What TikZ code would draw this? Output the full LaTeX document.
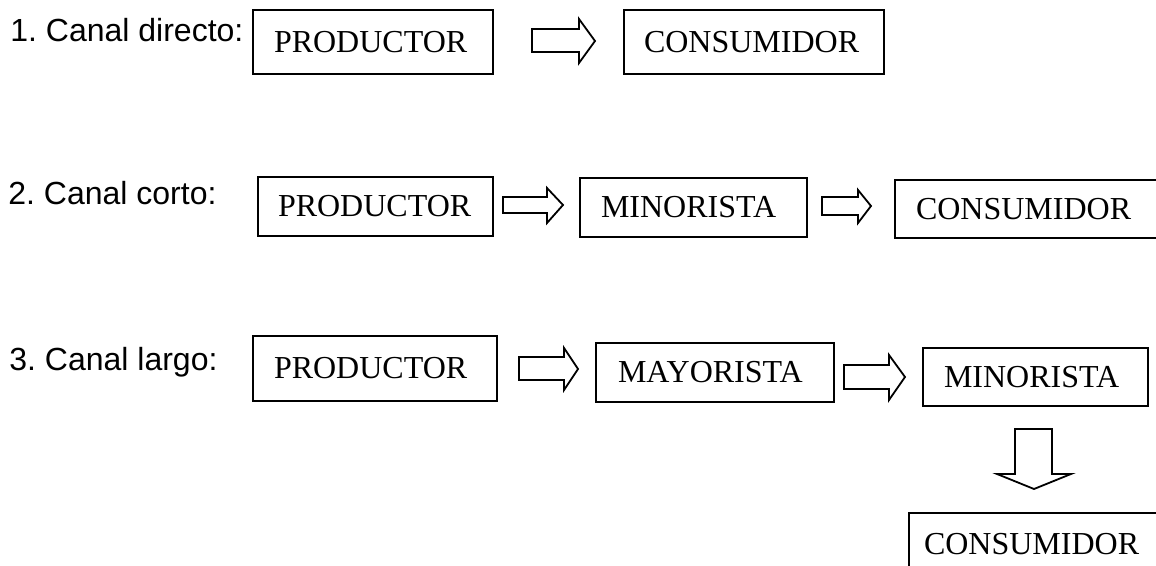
\documentclass[tikz,border=0pt]{standalone}
\usepackage{fontspec}
\setmainfont{Liberation Serif}
\newfontfamily\labfont{Liberation Sans}
\frenchspacing
\begin{document}
\begin{tikzpicture}[x=0.5pt,y=-0.5pt,
  box/.style={draw, line width=1pt, anchor=north west, inner ysep=0pt, align=left,
              font=\fontsize{16}{19}\selectfont},
  lab/.style={anchor=base west, inner sep=0pt, font=\labfont\fontsize{16}{19}\selectfont},
  blockarrow/.style={draw, line width=0.9pt, line join=miter}]
\useasboundingbox (0,0) rectangle (1156,566);
\clip (0,0) rectangle (1156,566);

% labels
\node[lab] (l1) at (10,42) {1. Canal directo:};
\node[lab] (l2) at (8,205) {2. Canal corto:};
\node[lab] (l3) at (9,371) {3. Canal largo:};

% row 1
\node[box, text width=99pt, inner xsep=10.5pt, minimum height=32pt] (p1) at (252,9) {PRODUCTOR};
\node[box, text width=110pt, inner xsep=10pt, minimum height=32pt] (c1) at (623,9) {CONSUMIDOR};
\draw[blockarrow] (532,29) -- (579,29) -- (579,19) -- (595,41) -- (579,63) -- (579,52) -- (532,52) -- cycle;

% row 2
\node[box, text width=97.5pt, inner xsep=10pt, minimum height=29.5pt] (p2) at (257,176) {PRODUCTOR};
\node[box, text width=92.5pt, inner xsep=10.5pt, minimum height=29.5pt] (m2) at (579,177) {MINORISTA};
\node[box, text width=127pt, inner xsep=10.5pt, minimum height=29pt] (c2) at (894,179) {CONSUMIDOR};
\draw[blockarrow] (503,197) -- (547,197) -- (547,188) -- (563,205) -- (547,223) -- (547,213) -- (503,213) -- cycle;
\draw[blockarrow] (822,197) -- (858,197) -- (858,190) -- (871,206) -- (858,223) -- (858,215) -- (822,215) -- cycle;

% row 3
\node[box, text width=101pt, inner xsep=10.5pt, minimum height=32.5pt] (p3) at (252,335) {PRODUCTOR};
\node[box, text width=97pt, inner xsep=11pt, minimum height=29.5pt] (y3) at (595,342) {MAYORISTA};
\node[box, text width=91.5pt, inner xsep=10.5pt, minimum height=29pt] (m3) at (922,347) {MINORISTA};
\node[box, text width=126pt, inner xsep=7.5pt, minimum height=31.5pt] (c3) at (908,512) {CONSUMIDOR};
\draw[blockarrow] (519,357) -- (564,357) -- (564,348) -- (578,369) -- (564,390) -- (564,380) -- (519,380) -- cycle;
\draw[blockarrow] (844,365) -- (889,365) -- (889,355) -- (905,377) -- (889,400) -- (889,389) -- (844,389) -- cycle;
\draw[blockarrow] (1015,429) -- (1052,429) -- (1052,474) -- (1071,474) -- (1034,489) -- (997,474) -- (1015,474) -- cycle;
\end{tikzpicture}
\end{document}
